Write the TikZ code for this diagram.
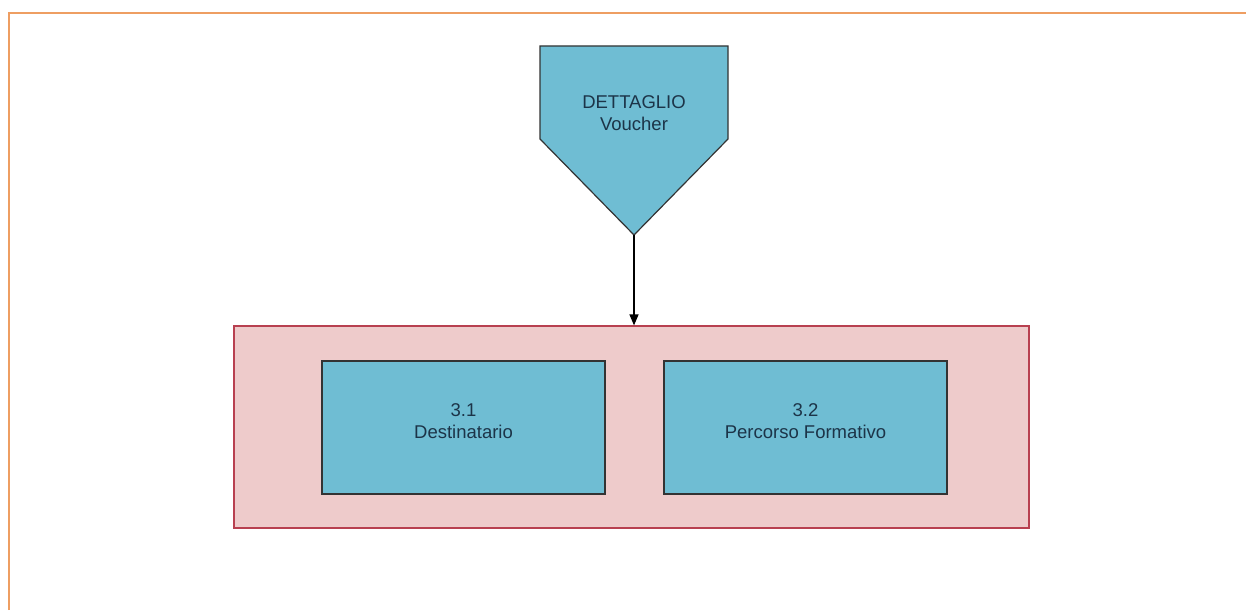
\documentclass[tikz,border=0pt]{standalone}
\usepackage{fontspec}
\setmainfont{Liberation Sans}
\usetikzlibrary{arrows.meta}
\definecolor{boxblue}{HTML}{6FBDD3}
\definecolor{pinkfill}{HTML}{EECBCB}
\definecolor{pinkedge}{HTML}{B84050}
\definecolor{frameorange}{HTML}{EE9E62}
\definecolor{txt}{HTML}{1C3448}
\tikzset{
  lbl/.style={align=center, text=txt, font=\fontsize{18.5}{22}\selectfont},
  bluebox/.style={draw=black!80, line width=1.2pt, fill=boxblue, minimum width=283pt, minimum height=133pt, inner sep=0pt},
  container/.style={draw=pinkedge, line width=1.2pt, fill=pinkfill, minimum width=795pt, minimum height=202pt, inner sep=0pt},
  conn/.style={line width=1.3pt, -{Triangle[width=9pt,length=11pt]}}
}
\begin{document}
\begin{tikzpicture}[x=1pt,y=-1pt]
\useasboundingbox (0,0) rectangle (1246,610);
\fill[white] (0,0) rectangle (1246,610);
\draw[frameorange, line width=1.5pt] (9,610) -- (9,13) -- (1246,13);
% pentagon
\draw[black!80, line width=1.2pt, fill=boxblue] (540,46) -- (728,46) -- (728,139) -- (634,235) -- (540,139) -- cycle;
\node[lbl] (dett) at (634,113) {DETTAGLIO\\Voucher};
\coordinate (tip) at (634,235);
% container
\node[container] (cont) at (631.5,427) {};
\node[bluebox] (b1) at (463.5,427.5) {};
\node[bluebox] (b2) at (805.5,427.5) {};
\node[lbl] (t1) at (463.5,421) {3.1\\Destinatario};
\node[lbl] (t2) at (805.5,421) {3.2\\Percorso Formativo};
\draw[conn] (tip) -- (tip |- cont.north);
\end{tikzpicture}
\end{document}
